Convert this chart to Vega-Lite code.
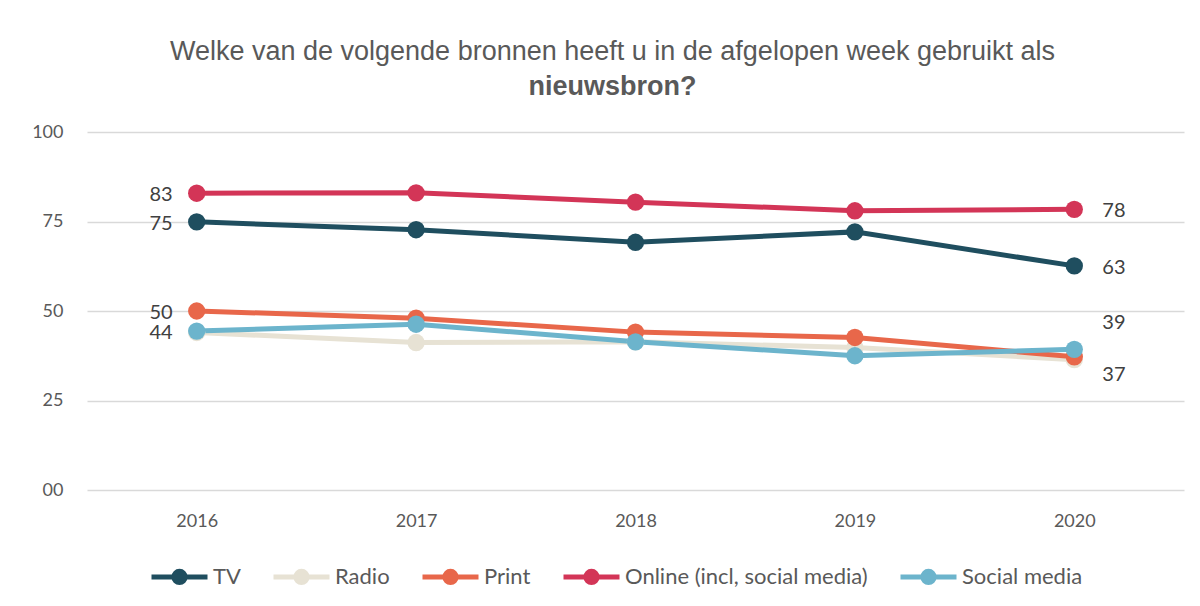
{
  "$schema": "https://vega.github.io/schema/vega-lite/v6.json",
  "width": 1097,
  "height": 358,
  "autosize": {"type": "none"},
  "padding": {"left": 87, "top": 132, "right": 16, "bottom": 116},
  "background": "white",
  "config": {"view": {"stroke": null}, "font": "Lato"},
  "title": {
    "text": "Welke van de volgende bronnen heeft u in de afgelopen week gebruikt als",
    "subtitle": "nieuwsbron?",
    "anchor": "middle",
    "frame": "group",
    "dx": -23,
    "offset": 22,
    "font": "Liberation Sans",
    "fontSize": 27,
    "fontWeight": "normal",
    "color": "#595959",
    "subtitleFont": "Liberation Sans",
    "subtitleFontSize": 27,
    "subtitleFontWeight": "bold",
    "subtitleColor": "#595959",
    "subtitlePadding": 8
  },
  "data": {
    "values": [
      {"year": "2016", "series": "TV", "value": 74.9},
      {"year": "2017", "series": "TV", "value": 72.7},
      {"year": "2018", "series": "TV", "value": 69.2},
      {"year": "2019", "series": "TV", "value": 72.1},
      {"year": "2020", "series": "TV", "value": 62.6},
      {"year": "2016", "series": "Radio", "value": 44.0},
      {"year": "2017", "series": "Radio", "value": 41.2},
      {"year": "2018", "series": "Radio", "value": 41.4},
      {"year": "2019", "series": "Radio", "value": 39.8},
      {"year": "2020", "series": "Radio", "value": 36.4},
      {"year": "2016", "series": "Print", "value": 50.0},
      {"year": "2017", "series": "Print", "value": 48.0},
      {"year": "2018", "series": "Print", "value": 44.1},
      {"year": "2019", "series": "Print", "value": 42.6},
      {"year": "2020", "series": "Print", "value": 37.2},
      {"year": "2016", "series": "Online (incl, social media)", "value": 82.9},
      {"year": "2017", "series": "Online (incl, social media)", "value": 83.0},
      {"year": "2018", "series": "Online (incl, social media)", "value": 80.4},
      {"year": "2019", "series": "Online (incl, social media)", "value": 78.0},
      {"year": "2020", "series": "Online (incl, social media)", "value": 78.4},
      {"year": "2016", "series": "Social media", "value": 44.4},
      {"year": "2017", "series": "Social media", "value": 46.3},
      {"year": "2018", "series": "Social media", "value": 41.4},
      {"year": "2019", "series": "Social media", "value": 37.5},
      {"year": "2020", "series": "Social media", "value": 39.3}
    ]
  },
  "encoding": {
    "x": {
      "field": "year", "type": "ordinal",
      "scale": {"type": "point", "padding": 0.5},
      "axis": {
        "title": null, "labelAngle": 0, "domain": false, "ticks": false, "grid": false,
        "labelFontSize": 18, "labelColor": "#595959", "labelPadding": 22, "labelFont": "Lato"
      }
    },
    "y": {
      "field": "value", "type": "quantitative",
      "scale": {"domain": [0, 100], "nice": false, "zero": true},
      "axis": {
        "title": null, "values": [0, 25, 50, 75, 100], "domain": false, "ticks": false,
        "grid": true, "gridColor": "#D9D9D9", "gridWidth": 1.5,
        "labelFontSize": 18, "labelColor": "#595959", "labelPadding": 24, "labelFont": "Lato",
        "labelExpr": "datum.value == 0 ? '00' : datum.label"
      }
    }
  },
  "layer": [
    {
      "mark": {"type": "line", "strokeWidth": 5, "point": {"size": 300, "filled": true, "opacity": 1}},
      "encoding": {
        "color": {
          "field": "series", "type": "nominal",
          "scale": {
            "domain": ["TV", "Radio", "Print", "Online (incl, social media)", "Social media"],
            "range": ["#1F4E5F", "#E7E2D4", "#E8674A", "#D33557", "#6CB4CC"]
          },
          "legend": {
            "title": null, "orient": "none", "legendX": 62, "legendY": 414, "direction": "horizontal",
            "symbolType": "M-1,0L1,0M-0.2,0A0.2,0.2,0,1,1,0.2,0A0.2,0.2,0,1,1,-0.2,0Z",
            "symbolSize": 3136, "symbolStrokeWidth": 5,
            "labelFontSize": 22, "labelColor": "#595959", "labelFont": "Lato",
            "labelOffset": 3, "columnPadding": 22, "labelLimit": 400,
            "encode": {"symbols": {"update": {"fill": {"field": "value", "scale": "color"}, "fillOpacity": {"value": 1}}}}
          }
        },
        "order": {"field": "year"}
      }
    },
    {
      "transform": [{"filter": "datum.year == '2016' && datum.series != 'Radio'"}],
      "mark": {"type": "text", "align": "right", "baseline": "middle", "dx": -24, "dy": 2, "fontSize": 20, "color": "#404040", "font": "Lato"},
      "encoding": {"text": {"field": "value", "type": "quantitative", "format": ".0f"}}
    },
    {
      "transform": [{"filter": "datum.year == '2020' && (datum.series == 'TV' || datum.series == 'Online (incl, social media)')"}],
      "mark": {"type": "text", "align": "left", "baseline": "middle", "dx": 28, "dy": 2, "fontSize": 20, "color": "#404040", "font": "Lato"},
      "encoding": {"text": {"field": "value", "type": "quantitative", "format": ".0f"}}
    },
    {
      "transform": [{"filter": "datum.year == '2020' && datum.series == 'Social media'"}],
      "mark": {"type": "text", "align": "left", "baseline": "middle", "dx": 28, "dy": -26, "fontSize": 20, "color": "#404040", "font": "Lato"},
      "encoding": {"text": {"field": "value", "type": "quantitative", "format": ".0f"}}
    },
    {
      "transform": [{"filter": "datum.year == '2020' && datum.series == 'Print'"}],
      "mark": {"type": "text", "align": "left", "baseline": "middle", "dx": 28, "dy": 18, "fontSize": 20, "color": "#404040", "font": "Lato"},
      "encoding": {"text": {"field": "value", "type": "quantitative", "format": ".0f"}}
    }
  ]
}
